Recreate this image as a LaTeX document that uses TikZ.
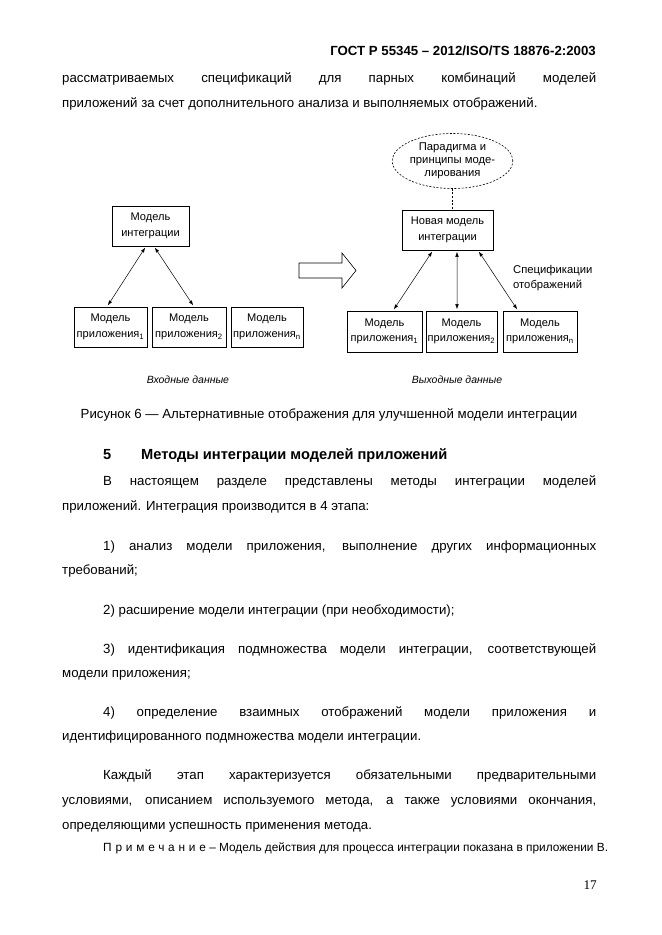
\documentclass[tikz,border=0pt]{standalone}
\usepackage{fontspec}
\setmainfont{Liberation Sans}
\newfontfamily\pagenumfont{Liberation Serif}
\usetikzlibrary{arrows.meta, shapes.geometric}
\tikzset{
  model box/.style={
    draw,
    line width=0.6bp,
    align=center,
    inner sep=0pt,
    minimum height=40bp,
    font=\fontsize{11.1}{15.5}\selectfont,
  },
  link/.style={
    {Latex[length=5bp,width=3.5bp]}-{Latex[length=5bp,width=3.5bp]},
    line width=0.5bp,
    shorten <=1.5bp, shorten >=1.5bp,
  },
  text line/.style={
    anchor=base west,
    inner sep=0pt,
    font=\fontsize{13.3}{16}\selectfont,
  },
  small label/.style={
    inner sep=0pt,
    font=\fontsize{11.3}{14.5}\selectfont,
  },
  fine dash/.style={dash pattern=on 2bp off 1.6bp},
}
\newcommand\fullline[1]{\makebox[534bp][s]{#1}}
\newcommand\indentline[1]{\makebox[493bp][s]{#1}}

\begin{document}
\begin{tikzpicture}[x=1bp, y=-1bp]
  \useasboundingbox[fill=white] (0,0) rectangle (662,935);

  % page text above the figure
  \node[text line, anchor=base east, font=\fontsize{13.3}{16}\bfseries] (hdr) at (596,55) {ГОСТ Р 55345 – 2012/ISO/TS 18876-2:2003};
  \node[text line] (l1) at (62,82.5) {\fullline{рассматриваемых спецификаций для парных комбинаций моделей}};
  \node[text line] (l2) at (62,107.5) {приложений за счет дополнительного анализа и выполняемых отображений.};

  % input side
  \node[model box, minimum width=77bp] (intL) at (150.5,226) {Модель\\интеграции};
  \node[model box, minimum width=73bp] (appL1) at (110.5,327) {Модель\\приложения\textsubscript{1}};
  \node[model box, minimum width=74bp] (appL2) at (189,327) {Модель\\приложения\textsubscript{2}};
  \node[model box, minimum width=72bp] (appL3) at (267,327) {Модель\\приложения\textsubscript{n}};
  \draw[link] ([xshift=-4.5bp]intL.south) to ([xshift=-3.5bp]appL1.north);
  \draw[link] ([xshift=3.5bp]intL.south) to ([xshift=5bp]appL2.north);
  \node[small label, font=\fontsize{10.5}{12}\itshape] (inData) at (188,380) {Входные данные};

  % transition arrow
  \draw[line width=0.6bp] (299,263) -- (342,263) -- (342,253) -- (356,270.5)
    -- (342,288) -- (342,278) -- (299,278) -- cycle;

  % output side
  \node[model box, ellipse, fine dash, minimum width=105bp, minimum height=55bp,
    font=\fontsize{11.3}{13}\selectfont] (para) at (452.5,161) {Парадигма и\\принципы моде-\\лирования};
  \node[model box, minimum width=91bp] (intR) at (447.5,230) {Новая модель\\интеграции};
  \node[model box, minimum width=75bp, minimum height=41bp] (appR1) at (384.5,331.5) {Модель\\приложения\textsubscript{1}};
  \node[model box, minimum width=71bp, minimum height=41bp] (appR2) at (461.5,331.5) {Модель\\приложения\textsubscript{2}};
  \node[model box, minimum width=74bp, minimum height=41bp] (appR3) at (540,331.5) {Модель\\приложения\textsubscript{n}};
  \draw[fine dash, line width=0.5bp] (para.south) -- (para.south |- intR.north);
  \draw[link] ([xshift=-14.5bp]intR.south) to ([xshift=8.5bp]appR1.north);
  \draw[link] ([xshift=9.5bp]intR.south) to ([xshift=-4.5bp]appR2.north);
  \draw[link] ([xshift=30.5bp]intR.south) to ([xshift=-22bp]appR3.north);
  \node[small label, anchor=west, align=left] (spec) at (513,278) {Спецификации\\отображений};
  \node[small label, font=\fontsize{10.5}{12}\itshape] (outData) at (457,380) {Выходные данные};

  % page text below the figure
  \node[text line, anchor=base] (cap) at (329,418.5) {Рисунок 6 — Альтернативные отображения для улучшенной модели интеграции};
  \node[text line, font=\fontsize{14.7}{18}\bfseries] (secNum) at (103,459.5) {5};
  \node[text line, font=\fontsize{14.7}{18}\bfseries] (secTitle) at (141,459.5) {Методы интеграции моделей приложений};
  \node[text line] (p1a) at (103,485.5) {\indentline{В настоящем разделе представлены методы интеграции моделей}};
  \node[text line] (p1b) at (62,510.5) {приложений. Интеграция производится в 4 этапа:};
  \node[text line] (i1a) at (103,550.5) {\indentline{1) анализ модели приложения, выполнение других информационных}};
  \node[text line] (i1b) at (62,574.5) {требований;};
  \node[text line] (i2) at (103,614.5) {2) расширение модели интеграции (при необходимости);};
  \node[text line] (i3a) at (103,653.5) {\indentline{3) идентификация подмножества модели интеграции, соответствующей}};
  \node[text line] (i3b) at (62,677.5) {модели приложения;};
  \node[text line] (i4a) at (103,716.5) {\indentline{4) определение взаимных отображений модели приложения и}};
  \node[text line] (i4b) at (62,740.5) {идентифицированного подмножества модели интеграции.};
  \node[text line] (p2a) at (103,779.5) {\indentline{Каждый этап характеризуется обязательными предварительными}};
  \node[text line] (p2b) at (62,804.5) {\fullline{условиями, описанием используемого метода, а также условиями окончания,}};
  \node[text line] (p2c) at (62,829.5) {определяющими успешность применения метода.};
  \node[text line, font=\fontsize{11.9}{14}\selectfont] (note) at (103,851.5) {{\addfontfeatures{LetterSpace=32}Примечание} – Модель действия для процесса интеграции показана в приложении В.};
  \node[text line, anchor=base east, font=\fontsize{13.3}{16}\pagenumfont] (pgNum) at (597,889.5) {17};
\end{tikzpicture}
\end{document}
